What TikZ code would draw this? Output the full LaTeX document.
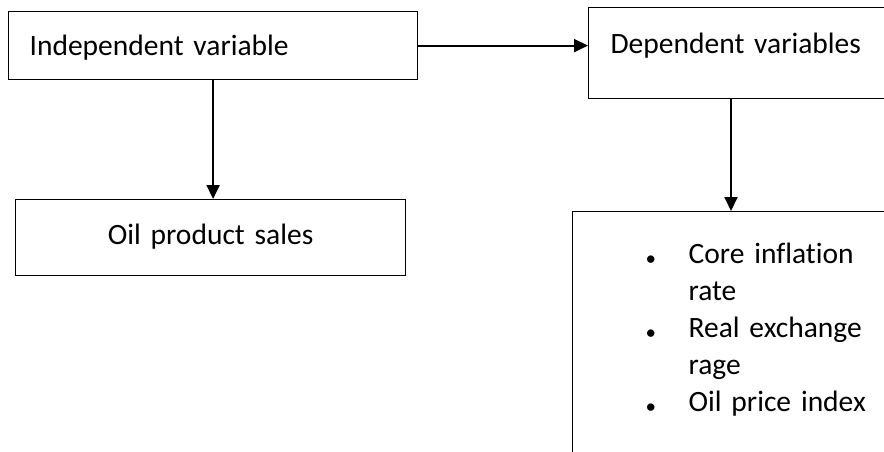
\documentclass[tikz,border=0pt]{standalone}
\usepackage{fontspec}
\setmainfont[Ligatures=NoCommon,WordSpace=0.75]{Carlito}
\usetikzlibrary{arrows.meta}
\newcommand{\itm}{\makebox[42pt][l]{\hspace*{-1pt}\raisebox{-2pt}{\fontsize{21}{21}\selectfont\textbullet}}}
\newcommand{\cnt}{\hspace*{42pt}}

\begin{document}
\begin{tikzpicture}[x=1pt,y=-1pt,>={Triangle[length=14pt,width=13pt]},
      box/.style={draw, line width=1.2pt, anchor=north west, inner ysep=0pt,
        font=\fontsize{29.5}{37}\selectfont},
      conn/.style={->, line width=1.9pt}]
     \useasboundingbox (0,0) rectangle (884,452);
     \clip (0,0) rectangle (884,452);
     \node[box, align=left, text width=367pt, inner xsep=21pt, text height=44pt, text depth=24pt] (indep) at (8,11) {Independent variable};
     \node[box, align=left, text width=300pt, inner xsep=22pt, text height=46pt, text depth=45pt] (dep) at (588,7) {Dependent variables};
     \node[box, align=center, text width=370pt, inner xsep=10pt, text height=45pt, text depth=31pt] (sales) at (15,199) {Oil product sales};
     \node[box, align=left, text width=256pt, inner xsep=74pt, text height=52pt, text depth=248pt] (vars) at (572,211)
       {\itm Core inflation\\ \cnt rate\\ \itm Real exchange\\ \cnt rage\\ \itm Oil price index};
     \draw[conn] (indep) -- (indep -| dep.west);
     \draw[conn] (indep.south) -- (indep.south |- sales.north);
     \draw[conn] ([xshift=143pt]dep.south west) -- ([xshift=159pt]vars.north west);
\end{tikzpicture}
\end{document}
